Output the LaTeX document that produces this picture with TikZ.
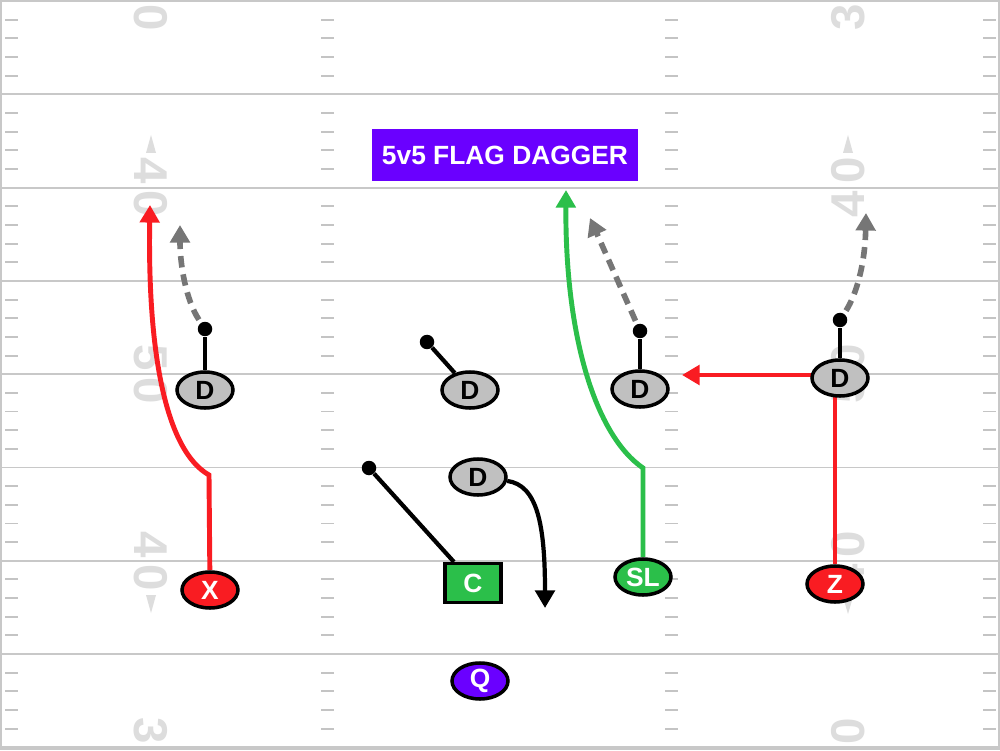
\documentclass[tikz,border=0pt]{standalone}
\usepackage{fontspec}
\setmainfont{Liberation Sans}
\usetikzlibrary{positioning,arrows.meta,shapes.geometric}

\definecolor{fieldline}{HTML}{C8C8C8}
\definecolor{hashgray}{HTML}{C4C4C4}
\definecolor{numgray}{HTML}{DDDDDD}
\definecolor{playred}{HTML}{F91C22}
\definecolor{playgreen}{HTML}{2BBF4A}
\definecolor{playpurple}{HTML}{6A00FF}
\definecolor{defgray}{HTML}{C0C0C0}
\definecolor{readgray}{HTML}{767676}

\pgfdeclarelayer{field}
\pgfdeclarelayer{routes}
\pgfsetlayers{field,routes,main}

\begin{document}
\begin{tikzpicture}[on grid,node distance=1.2cm,
    player/.style={ellipse,draw=black,line width=2pt,minimum width=1.12cm,minimum height=0.72cm,
      inner sep=0pt,font=\bfseries\fontsize{15}{15}\selectfont},
    offense/.style={player,fill=#1,text=white},
    defense/.style={player,fill=defgray,text=black},
    keydot/.style={circle,fill=black,minimum size=0.29cm,inner sep=0pt},
    route/.style={line width=2.8pt,-{Triangle[width=11pt,length=10pt]}},
    block/.style={line width=2.4pt},
    read/.style={readgray,line width=3.2pt,dash pattern=on 6.5pt off 4pt,shorten <=2pt,
      -{Triangle[width=11pt,length=10pt]}},
    yardnum/.style={numgray,inner sep=0pt,font=\bfseries\fontsize{27}{27}\selectfont}]

    \clip (0,0) rectangle (20,15);

    % field
    \begin{pgfonlayer}{field}
      \fill[white] (0,0) rectangle (20,15);
      \foreach \k in {0,...,8}
        \draw[fieldline,line width=1.1pt] (0,0.052+1.866*\k) -- (20,0.052+1.866*\k);
      \foreach \k in {0,...,7}
        \foreach \j in {1,...,4} {
          \pgfmathsetmacro\hy{0.052+1.866*\k+0.3732*\j}
          \foreach \hx in {0.1,6.42,13.3,19.66}
            \draw[hashgray,line width=1.1pt] (\hx,\hy) -- ++(0.26,0);
        }
      \draw[fieldline,line width=1.1pt] (0.02,0.02) rectangle (19.98,14.98);
      \foreach \a/\b/\yy in {3/0/14.98,4/0/11.25,5/0/7.52,4/0/3.78,3/0/0.05} {
        \node[yardnum,rotate=-90] at (3.02,\yy) {\a\hspace{4pt}\b};
        \node[yardnum,rotate=90] at (16.96,\yy) {\a\hspace{4pt}\b};
      }
      \fill[numgray] (3.02,12.3) -- (2.92,11.94) -- (3.12,11.94) -- cycle;
      \fill[numgray] (3.02,2.74) -- (2.92,3.1) -- (3.12,3.1) -- cycle;
      \fill[numgray] (16.96,12.3) -- (16.86,11.94) -- (17.06,11.94) -- cycle;
      \fill[numgray] (16.96,2.72) -- (16.86,3.06) -- (17.06,3.06) -- cycle;
    \end{pgfonlayer}

    \node[fill=playpurple,text=white,minimum width=5.32cm,minimum height=1.04cm,inner sep=0pt,
      font=\bfseries\fontsize{15}{15}\selectfont] (title) at (10.1,11.9) {5v5 FLAG DAGGER};

    % offense
    \node[offense=playred] (x) at (4.2,3.2) {X};
    \node[rectangle,draw=black,line width=1.8pt,fill=playgreen,text=white,minimum width=1.12cm,
      minimum height=0.78cm,inner sep=0pt,font=\bfseries\fontsize{15}{15}\selectfont] (c) at (9.46,3.34) {C};
    \node[offense=playgreen] (sl) at (12.86,3.46) {SL};
    \node[offense=playred] (z) at (16.7,3.32) {Z};
    \node[offense=playpurple] (q) at (9.6,1.38) {Q};

    % defense
    \node[defense] (d1) at (4.1,7.2) {D};
    \node[defense] (d2) at (9.4,7.2) {D};
    \node[defense] (d3) at (12.8,7.22) {D};
    \node[defense] (d4) at (16.8,7.44) {D};
    \node[defense] (d5) at (9.56,5.46) {D};

    \node[keydot] (d1dot) [above=1.22cm of d1] {};
    \node[keydot] (d2dot) [above left=0.96cm and 0.86cm of d2] {};
    \node[keydot] (d3dot) [above=1.16cm of d3] {};
    \node[keydot] (d4dot) [above=1.16cm of d4] {};
    \node[keydot] (cdot) [above left=2.3cm and 2.08cm of c] {};

    \coordinate (xbreak) at (4.18,5.5);
    \coordinate (xend) at (3.0,10.9);
    \coordinate (slbreak) at (12.86,5.64);
    \coordinate (slend) at (11.32,11.2);
    \coordinate (zend) at (13.64,7.5);
    \coordinate (d5end) at (10.9,2.84);
    \coordinate (d1end) at (3.6,10.5);
    \coordinate (d3end) at (11.8,10.64);
    \coordinate (d4end) at (17.32,10.74);

    \begin{pgfonlayer}{routes}
      \draw[route,playred] (x) -- (xbreak) .. controls (3.3,6.0) and (2.95,8.0) .. (xend);
      \draw[route,playgreen] (sl) -- (slbreak) .. controls (11.9,6.3) and (11.3,8.3) .. (slend);
      \draw[route,playred] (z) |- (zend);
      \draw[route,black,line width=2.4pt] (d5) .. controls (10.75,5.3) and (10.9,4.5) .. (d5end);
      \draw[block] (c) -- (cdot);
      \path[block,draw]
      (d1) edge (d1dot)
      (d2) edge (d2dot)
      (d3) edge (d3dot)
      (d4) edge (d4dot);
      \draw[read] (d1dot) .. controls (3.72,9.0) and (3.6,9.7) .. (d1end);
      \draw[read] (d3dot) -- (d3end);
      \draw[read] (d4dot) .. controls (17.12,9.1) and (17.3,9.7) .. (d4end);
    \end{pgfonlayer}

  \end{tikzpicture}
\end{document}
